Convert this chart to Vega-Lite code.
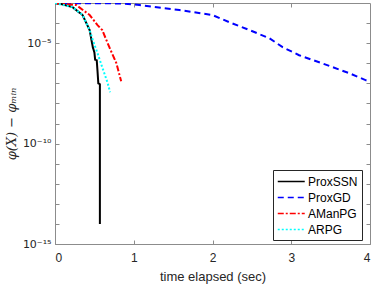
{
  "$schema": "https://vega.github.io/schema/vega-lite/v6.json",
  "autosize": {"type": "none"},
  "padding": {"left": 55, "top": 3, "right": 4, "bottom": 42},
  "width": 315,
  "height": 241,
  "background": "white",
  "config": {
    "font": "Liberation Sans",
    "view": {"stroke": "#8c8c8c", "strokeWidth": 1},
    "axis": {
      "domainColor": "#8c8c8c",
      "tickColor": "#8c8c8c",
      "labelColor": "#262626",
      "titleColor": "#262626",
      "labelFontSize": 12,
      "titleFontSize": 13,
      "titleFontWeight": "normal",
      "grid": false
    }
  },
  "data": {
    "values": [
      {"method": "ProxSSN", "t": 0.0, "v": 9.8e-4},
      {"method": "ProxSSN", "t": 0.1, "v": 8.5e-4},
      {"method": "ProxSSN", "t": 0.22, "v": 6.31e-4},
      {"method": "ProxSSN", "t": 0.35, "v": 2.51e-4},
      {"method": "ProxSSN", "t": 0.44, "v": 4.47e-5},
      {"method": "ProxSSN", "t": 0.48, "v": 6.31e-6},
      {"method": "ProxSSN", "t": 0.5, "v": 3.5e-6},
      {"method": "ProxSSN", "t": 0.51, "v": 1.5e-6},
      {"method": "ProxSSN", "t": 0.53, "v": 1.41e-6},
      {"method": "ProxSSN", "t": 0.54, "v": 4e-7},
      {"method": "ProxSSN", "t": 0.55, "v": 1.0e-7},
      {"method": "ProxSSN", "t": 0.57, "v": 9.0e-8},
      {"method": "ProxSSN", "t": 0.57, "v": 1.0e-14},

      {"method": "ProxGD", "t": 0.0, "v": 9.9e-4},
      {"method": "ProxGD", "t": 0.35, "v": 9.8e-4},
      {"method": "ProxGD", "t": 0.86, "v": 9.5e-4},
      {"method": "ProxGD", "t": 1.07, "v": 7.94e-4},
      {"method": "ProxGD", "t": 1.58, "v": 4.47e-4},
      {"method": "ProxGD", "t": 2.0, "v": 2.51e-4},
      {"method": "ProxGD", "t": 2.21, "v": 1.12e-4},
      {"method": "ProxGD", "t": 2.47, "v": 4.47e-5},
      {"method": "ProxGD", "t": 2.72, "v": 1.78e-5},
      {"method": "ProxGD", "t": 2.89, "v": 6.31e-6},
      {"method": "ProxGD", "t": 3.1, "v": 2.51e-6},
      {"method": "ProxGD", "t": 3.39, "v": 1.0e-6},
      {"method": "ProxGD", "t": 3.74, "v": 3.16e-7},
      {"method": "ProxGD", "t": 3.95, "v": 1.41e-7},
      {"method": "ProxGD", "t": 4.0, "v": 1.26e-7},

      {"method": "AManPG", "t": 0.0, "v": 9.8e-4},
      {"method": "AManPG", "t": 0.27, "v": 7.94e-4},
      {"method": "AManPG", "t": 0.44, "v": 2.51e-4},
      {"method": "AManPG", "t": 0.54, "v": 7.94e-5},
      {"method": "AManPG", "t": 0.6, "v": 4.47e-5},
      {"method": "AManPG", "t": 0.69, "v": 6.31e-6},
      {"method": "AManPG", "t": 0.78, "v": 1.0e-6},
      {"method": "AManPG", "t": 0.84, "v": 1.26e-7},

      {"method": "ARPG", "t": 0.0, "v": 9.8e-4},
      {"method": "ARPG", "t": 0.22, "v": 6.31e-4},
      {"method": "ARPG", "t": 0.35, "v": 2.51e-4},
      {"method": "ARPG", "t": 0.44, "v": 4.47e-5},
      {"method": "ARPG", "t": 0.48, "v": 1.41e-5},
      {"method": "ARPG", "t": 0.54, "v": 3.16e-6},
      {"method": "ARPG", "t": 0.6, "v": 6.31e-7},
      {"method": "ARPG", "t": 0.67, "v": 1.0e-7},
      {"method": "ARPG", "t": 0.7, "v": 3.55e-8}
    ]
  },
  "resolve": {"axis": {"x": "independent", "y": "independent"}},
  "layer": [
    {
      "mark": {"type": "line", "clip": true, "strokeWidth": 2},
      "encoding": {
        "x": {
          "field": "t", "type": "quantitative",
          "scale": {"domain": [0, 4], "nice": false, "zero": false},
          "axis": {"values": [0, 1, 2, 3, 4], "title": "time elapsed (sec)", "tickSize": -4, "labelPadding": 12, "titlePadding": 7}
        },
        "y": {
          "field": "v", "type": "quantitative",
          "scale": {"type": "log", "domain": [1e-15, 1e-3], "nice": false},
          "axis": {
            "values": [1e-15, 1e-14, 1e-13, 1e-12, 1e-11, 1e-10, 1e-9, 1e-8, 1e-7, 1e-6, 1e-5, 1e-4, 1e-3],
            "labelExpr": "round(log(datum.value)/LN10) == -5 ? '10⁻⁵' : round(log(datum.value)/LN10) == -10 ? '10⁻¹⁰' : round(log(datum.value)/LN10) == -15 ? '10⁻¹⁵' : ''",
            "labelFont": "DejaVu Sans",
            "labelFontSize": 11,
            "title": "φ(X) − φₘᵢₙ",
            "titleFont": "DejaVu Serif",
            "titleFontStyle": "italic",
            "titleFontSize": 13,
            "tickSize": -4,
            "labelPadding": 8,
            "titlePadding": 4
          }
        },
        "color": {
          "field": "method", "type": "nominal",
          "scale": {"domain": ["ProxSSN", "ProxGD", "AManPG", "ARPG"], "range": ["#000000", "#0000ff", "#ff0000", "#00ffff"]},
          "legend": {
            "title": null,
            "orient": "none",
            "legendX": 218,
            "legendY": 167,
            "symbolType": "M-1,0H3",
            "symbolSize": 182,
            "symbolStrokeWidth": 1.5,
            "labelFontSize": 12,
            "labelColor": "#000000",
            "fillColor": "white",
            "strokeColor": "#262626",
            "padding": 4,
            "rowPadding": 2,
            "labelOffset": 16
          }
        },
        "strokeDash": {
          "field": "method", "type": "nominal",
          "scale": {"domain": ["ProxSSN", "ProxGD", "AManPG", "ARPG"], "range": [[1, 0], [6, 4], [6, 2, 2, 2], [2, 2]]},
          "legend": null
        }
      }
    },
    {
      "mark": {"type": "line", "opacity": 0},
      "encoding": {
        "x": {"field": "t", "type": "quantitative", "axis": {"orient": "top", "values": [1, 2, 3], "labels": false, "title": null, "tickSize": -4, "domain": false}},
        "y": {"field": "v", "type": "quantitative", "axis": {"orient": "right", "values": [1e-14, 1e-13, 1e-12, 1e-11, 1e-10, 1e-9, 1e-8, 1e-7, 1e-6, 1e-5, 1e-4], "labels": false, "title": null, "tickSize": -4, "domain": false}},
        "detail": {"field": "method"}
      }
    }
  ]
}
